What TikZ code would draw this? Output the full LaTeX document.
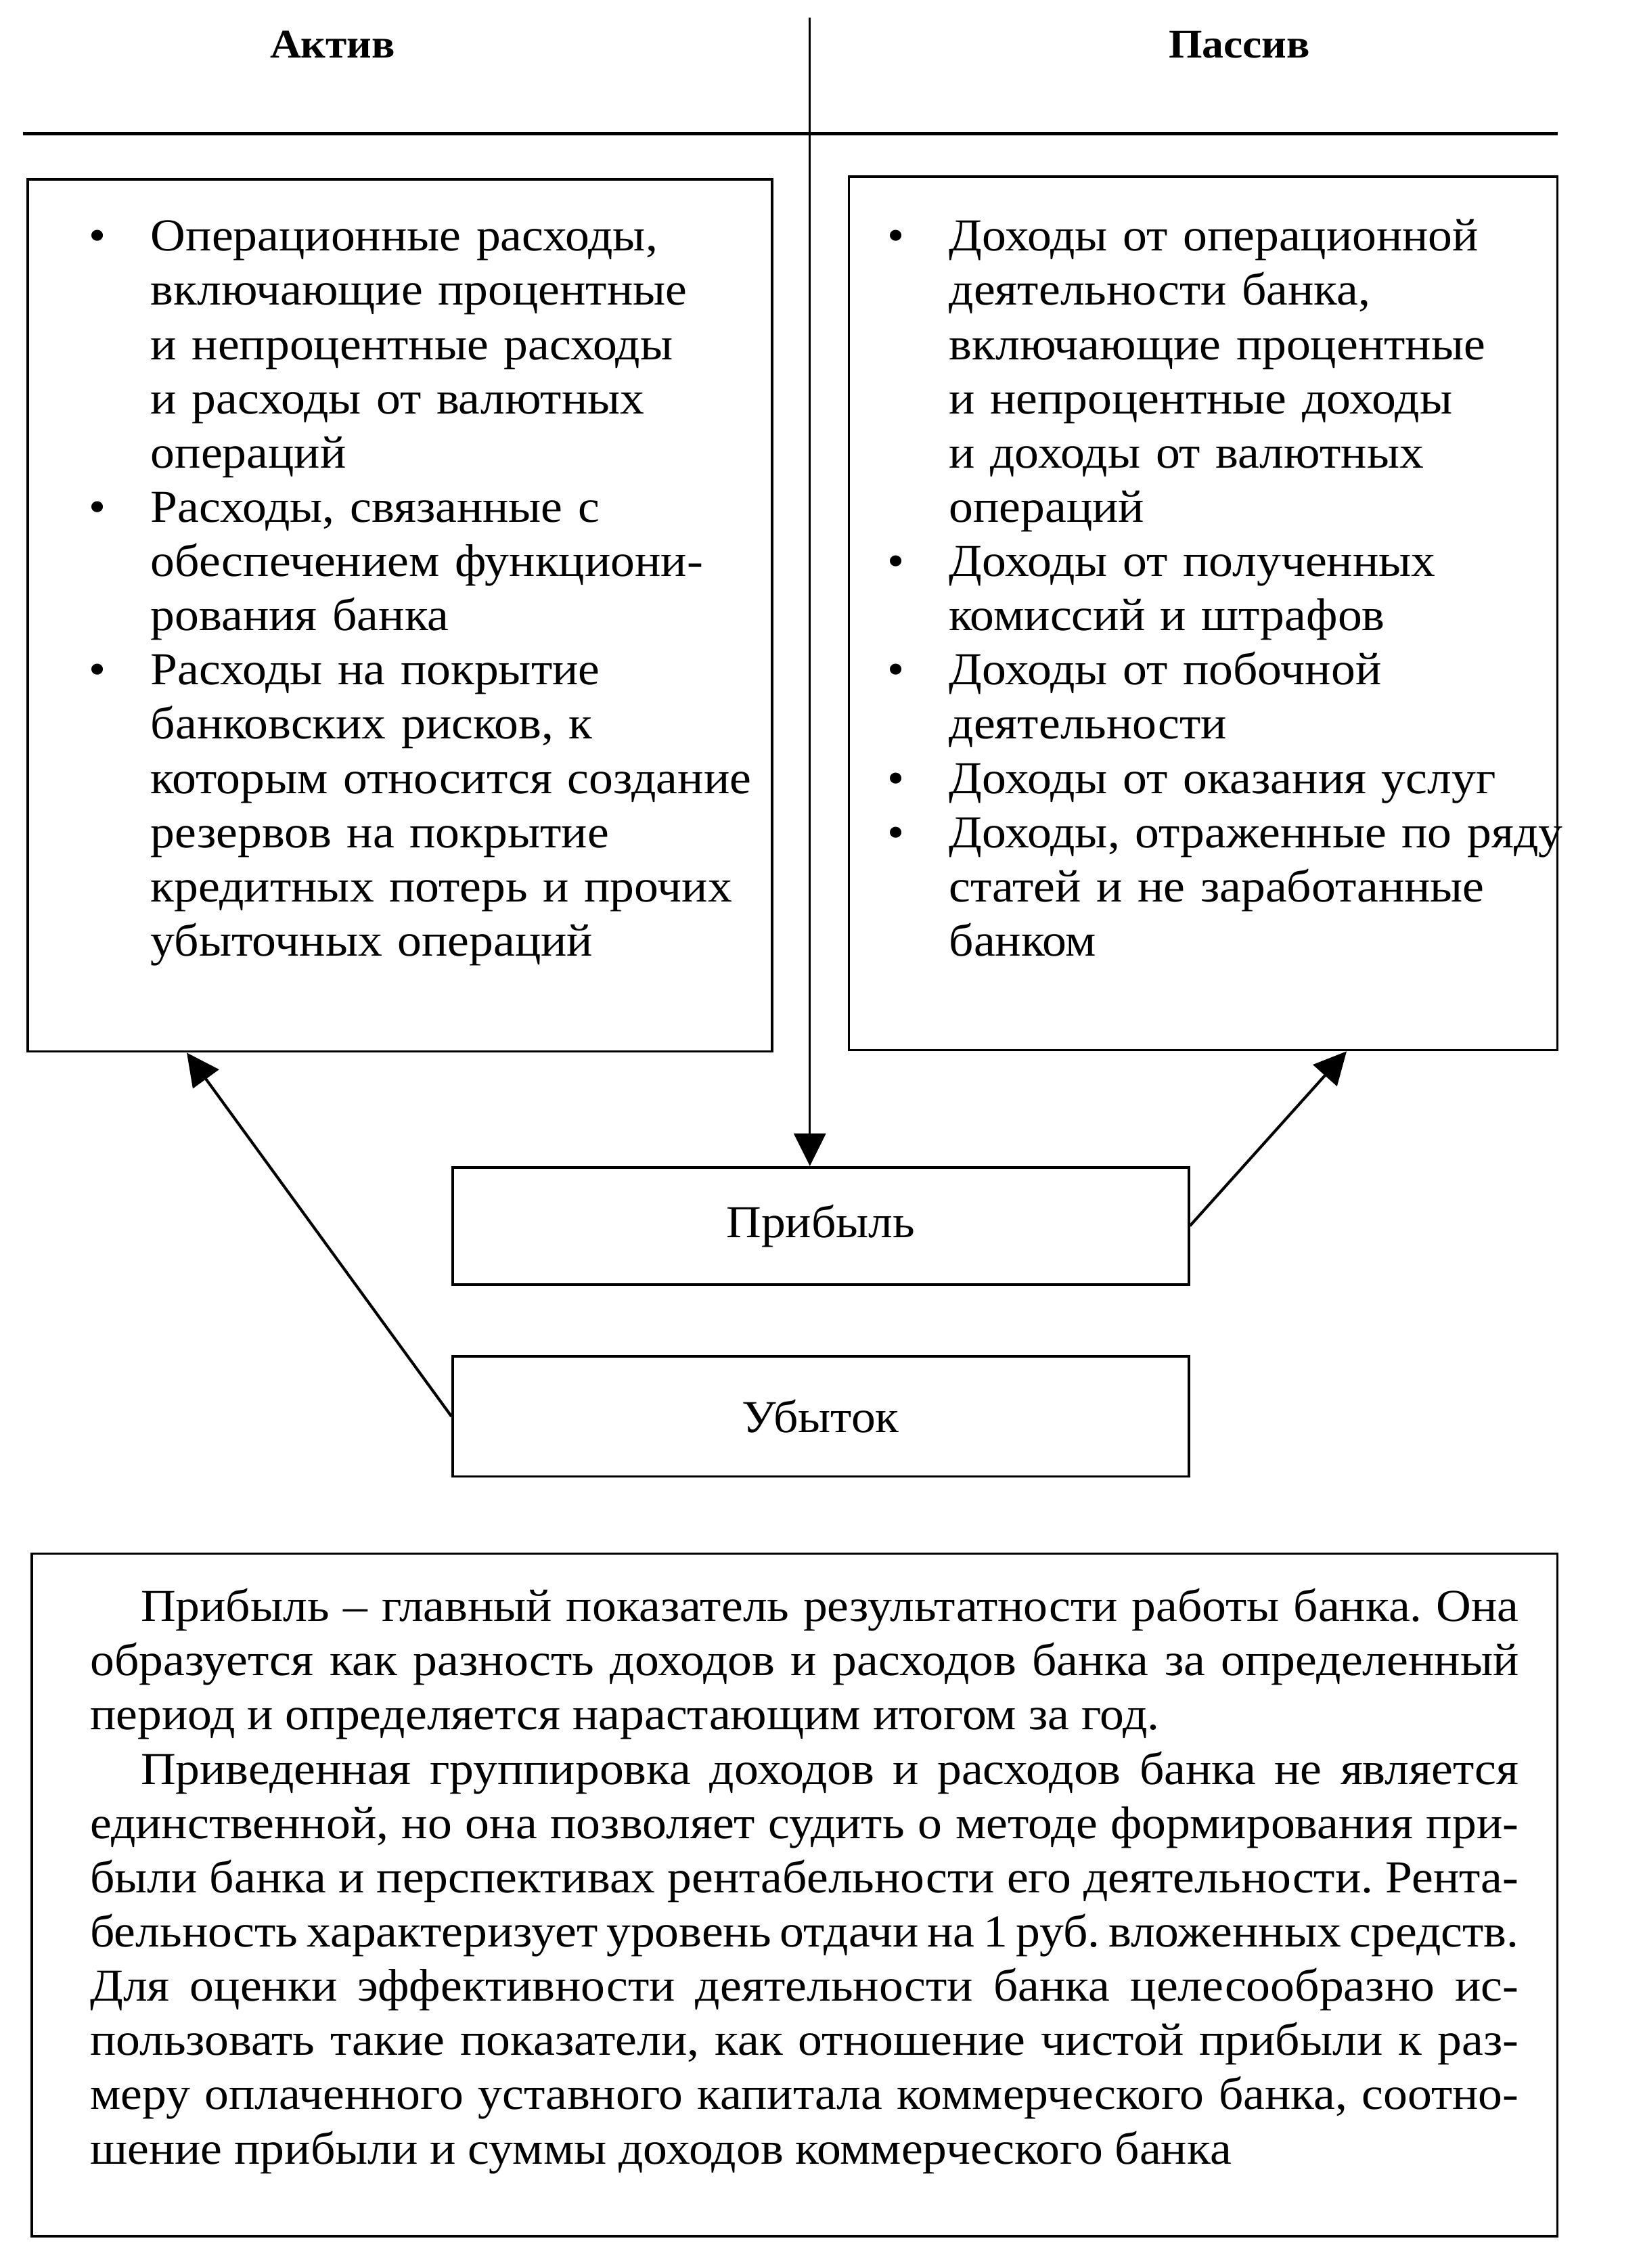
\documentclass[tikz,border=0pt]{standalone}
\usepackage{fontspec}
\setmainfont{Liberation Serif}[FakeStretch=1.06]
\usetikzlibrary{arrows.meta,positioning,calc}
\newcommand{\bodyfont}{\fontsize{18}{21.34}\selectfont\frenchspacing}
\newcommand{\indt}{\hspace*{0.7cm}}
\newcommand{\jline}[1]{\makebox[\hsize][s]{#1}\\}
\newenvironment{bullist}{%
  \begin{list}{\textbullet}{\setlength{\leftmargin}{1.2cm}\setlength{\labelwidth}{0.5cm}%
    \setlength{\labelsep}{0.62cm}\setlength{\itemsep}{0pt}\setlength{\parsep}{0pt}%
    \setlength{\topsep}{0pt}\setlength{\partopsep}{0pt}}}{\end{list}}
\tikzset{
  framebox/.style={rectangle,draw=black,line width=1pt,inner sep=0pt,font=\bodyfont},
  headnode/.style={inner sep=0pt,anchor=base,font=\fontsize{16}{20}\selectfont\bfseries},
  listtext/.style={inner sep=0pt,anchor=base west,text width=10.4cm,align=left,font=\bodyfont},
  bodytext/.style={inner sep=0pt,anchor=base west,text width=19.76cm,align=left,font=\bodyfont},
  rulearr/.style={-{Triangle[length=0.45cm,width=0.44cm]},line width=0.9pt},
  arr/.style={-{Triangle[length=0.45cm,width=0.44cm]},line width=1.1pt}
}

\begin{document}
\begin{tikzpicture}[x=0.02cm,y=-0.02cm]
  \useasboundingbox (0,0) rectangle (1136,1568);

  %% Column heads and rule
  \node[headnode] (aktivhead) at (230,40) {Актив};
  \node[headnode] (passivhead) at (857,40) {Пассив};
  \draw[line width=1.3pt] (16,92.5) -- (1077,92.5);

  %% Expense and income boxes
  \node[framebox,minimum width=10.3cm,minimum height=12.06cm] (aktiv) at (276.5,425.5) {};
  \node[framebox,minimum width=9.8cm,minimum height=12.08cm] (passiv) at (832,424) {};

  \node[listtext] (aktivtext) at (44,136) {%
    \begin{bullist}
    \item Операционные расходы,\\ включающие процентные\\ и непроцентные расходы\\
      и расходы от валютных\\ операций
    \item Расходы, связанные с\\ обеспечением функциони-\\ рования банка
    \item Расходы на покрытие\\ банковских рисков, к\\ которым относится создание\\
      резервов на покрытие\\ кредитных потерь и прочих\\ убыточных операций
    \end{bullist}};

  \node[listtext] (passivtext) at (596,136) {%
    \begin{bullist}
    \item Доходы от операционной\\ деятельности банка,\\ включающие процентные\\
      и непроцентные доходы\\ и доходы от валютных\\ операций
    \item Доходы от полученных\\ комиссий и штрафов
    \item Доходы от побочной\\ деятельности
    \item Доходы от оказания услуг
    \item Доходы, отраженные по ряду\\ статей и не заработанные\\ банком
    \end{bullist}};

  %% Result boxes
  \node[framebox,minimum width=10.18cm,minimum height=1.62cm] (pribyl) at (567.5,847.5) {Прибыль};
  \node[framebox,minimum width=10.18cm,minimum height=1.66cm,below=0.96cm of pribyl] (ubytok) {Убыток};

  %% Connectors
  \coordinate (vtop) at (560,12);
  \draw[rulearr] (vtop) -- (vtop |- pribyl.north);
  \draw[arr] (ubytok.west) -- ($(aktiv.south west)+(111,0)$);
  \draw[arr] (pribyl.east) -- ($(passiv.south west)+(345,0)$);

  %% Summary box
  \node[framebox,minimum width=21.1cm,minimum height=9.44cm] (itog) at (549.5,1310) {};
  \node[bodytext] (itogtext) at (62,1121) {%
    \spaceskip=0pt\xspaceskip=0pt\relax
    \jline{\indt Прибыль – главный показатель результатности работы банка. Она}
    \jline{образуется как разность доходов и расходов банка за определенный}
    период и определяется нарастающим итогом за год.\\
    \jline{\indt Приведенная группировка доходов и расходов банка не является}
    \jline{единственной, но она позволяет судить о методе формирования при-}
    \jline{были банка и перспективах рентабельности его деятельности. Рента-}
    \jline{бельность характеризует уровень отдачи на 1 руб. вложенных средств.}
    \jline{Для оценки эффективности деятельности банка целесообразно ис-}
    \jline{пользовать такие показатели, как отношение чистой прибыли к раз-}
    \jline{меру оплаченного уставного капитала коммерческого банка, соотно-}
    шение прибыли и суммы доходов коммерческого банка};
\end{tikzpicture}
\end{document}
